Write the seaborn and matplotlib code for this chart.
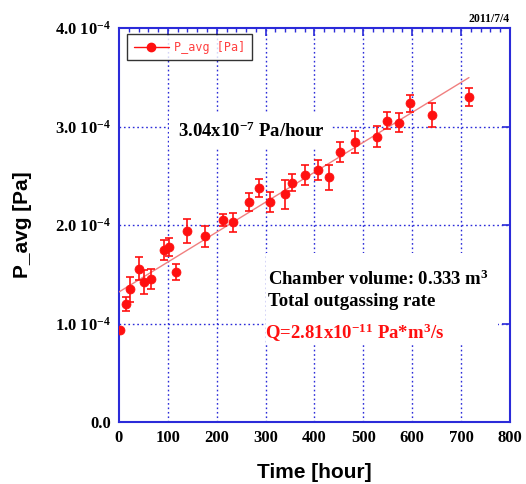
import matplotlib
matplotlib.use("Agg")
import matplotlib.pyplot as plt
import seaborn as sns
import numpy as np
from matplotlib.lines import Line2D
from matplotlib.ticker import AutoMinorLocator

# --- data (pressure in units of 1e-4 Pa) ---
time_h = [2, 14, 22.5, 41.5, 51, 66, 92, 101.6, 116, 140, 177, 213, 234, 265, 286,
          308, 339, 354, 381, 408, 429, 452, 483, 528, 549, 573, 596, 641, 716]
p_avg_e4 = [0.934, 1.198, 1.347, 1.556, 1.421, 1.449, 1.746, 1.78, 1.523, 1.936, 1.885,
            2.05, 2.027, 2.233, 2.379, 2.233, 2.31, 2.43, 2.508, 2.558, 2.484, 2.744,
            2.846, 2.896, 3.06, 3.04, 3.235, 3.117, 3.30]
p_err_e4 = [0.0, 0.068, 0.125, 0.115, 0.12, 0.10, 0.10, 0.09, 0.085, 0.12, 0.11,
            0.06, 0.095, 0.095, 0.09, 0.105, 0.15, 0.085, 0.105, 0.10, 0.125, 0.10,
            0.11, 0.108, 0.085, 0.095, 0.088, 0.125, 0.095]

fit_slope = 3.04e-7     # Pa/hour
fit_icpt = 1.32e-4      # Pa
fit_t = [0, 716]

x_ticks = [0, 100, 200, 300, 400, 500, 600, 700, 800]
y_ticks = [0.0, 1.0e-4, 2.0e-4, 3.0e-4, 4.0e-4]
y_labels = ["0.0", r"1.0 10$^{-4}$", r"2.0 10$^{-4}$", r"3.0 10$^{-4}$", r"4.0 10$^{-4}$"]

p_avg = np.array(p_avg_e4) * 1e-4
p_err = np.array(p_err_e4) * 1e-4
fit_p = [fit_icpt + fit_slope * t for t in fit_t]

# --- style ---
sns.set_style("white")
plt.rcParams['font.family'] = ['Liberation Serif', 'DejaVu Serif']
plt.rcParams['text.color'] = 'black'
plt.rcParams['axes.labelcolor'] = 'black'
plt.rcParams['mathtext.fontset'] = 'custom'
plt.rcParams['mathtext.rm'] = 'Liberation Serif:bold'
plt.rcParams['mathtext.it'] = 'Liberation Serif:bold'
plt.rcParams['mathtext.bf'] = 'Liberation Serif:bold'

BLUE = '#2b2bd9'
RED = '#ff1010'

fig = plt.figure(figsize=(5.26, 4.84), dpi=100)
ax = fig.add_axes([0.2262, 0.1281, 0.7434, 0.814])

# grid
for gx in x_ticks[1:-1]:
    ax.axvline(gx, color=BLUE, lw=1, ls=(0, (1.2, 2)), zorder=1)
for gy in y_ticks[1:-1]:
    ax.axhline(gy, color=BLUE, lw=1, ls=(0, (1.2, 2)), zorder=1)

# white box behind the annotations (hides the grid)
ax.add_patch(plt.Rectangle((0.375, 0.195), 0.595, 0.235, transform=ax.transAxes,
                           facecolor='white', edgecolor='none', zorder=2))

# fit line
sns.lineplot(x=fit_t, y=fit_p, ax=ax, color='#f08080', lw=1, zorder=3)

# data with error bars
ax.errorbar(time_h, p_avg, yerr=p_err, fmt='none', ecolor=RED, elinewidth=1.2,
            capsize=3, capthick=1.2, zorder=4)
sns.scatterplot(x=time_h, y=p_avg, ax=ax, color=RED, s=42, edgecolor=RED, zorder=5)

ax.set_xlim(0, 800)
ax.set_ylim(0, 4.0e-4)
ax.set_xticks(x_ticks)
ax.set_yticks(y_ticks)
ax.set_yticklabels(y_labels)
ax.xaxis.set_minor_locator(AutoMinorLocator(5))
ax.tick_params(axis='both', which='both', direction='in', colors=BLUE,
               labelcolor='black', top=True, right=True)
ax.tick_params(axis='both', which='major', length=6, width=1.2, labelsize=12, pad=6)
ax.tick_params(axis='x', which='minor', length=3, width=1)
for lab in ax.get_xticklabels() + ax.get_yticklabels():
    lab.set_fontweight('bold')
for sp in ax.spines.values():
    sp.set_color(BLUE)
    sp.set_linewidth(1.5)

ax.set_xlabel("Time [hour]", family='Liberation Sans', fontsize=15, fontweight='bold',
              labelpad=12, color='black')
ax.set_ylabel("P_avg [Pa]", family='Liberation Sans', fontsize=15, fontweight='bold',
              labelpad=16, color='black')

# annotations
ax.text(120, 2.95e-4, r"3.04x10$^{-7}$ Pa/hour", fontsize=13.5, fontweight='bold',
        va='center', ha='left', zorder=6,
        bbox=dict(facecolor='white', edgecolor='none', pad=6))
ax.text(304, 1.45e-4, r"Chamber volume: 0.333 m$^{3}$", fontsize=13.5, fontweight='bold',
        va='center', ha='left', zorder=6)
ax.text(304, 1.22e-4, "Total outgassing rate", fontsize=13.5, fontweight='bold',
        va='center', ha='left', zorder=6)
ax.text(299, 0.905e-4, r"Q=2.81x10$^{-11}$ Pa*m$^{3}$/s", fontsize=13.5, fontweight='bold',
        color=RED, va='center', ha='left', zorder=6)
ax.text(1.0, 1.008, "2011/7/4", transform=ax.transAxes, fontsize=8.5, fontweight='bold',
        ha='right', va='bottom')

# legend
handle = Line2D([], [], color=RED, lw=1, marker='o', markersize=6)
leg = ax.legend([handle], ["P_avg [Pa]"], loc='upper left', bbox_to_anchor=(0.012, 0.993),
                frameon=True, fancybox=False, handlelength=3.0, handletextpad=0.4,
                borderpad=0.55, borderaxespad=0.3,
                prop={'family': 'DejaVu Sans Mono', 'size': 8.5})
leg.get_frame().set_edgecolor('black')
leg.get_frame().set_linewidth(1.0)
for t in leg.get_texts():
    t.set_color('#ff4040')
leg.set_zorder(7)

fig.savefig("out.png", dpi=100)
